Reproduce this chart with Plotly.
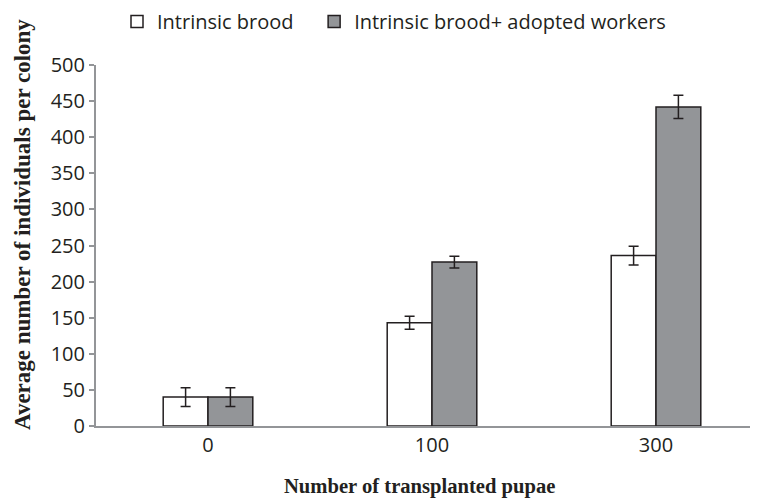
import plotly.graph_objects as go

categories = ["0", "100", "300"]
intrinsic = [40, 143, 236]
intrinsic_err = [13, 9, 13]
adopted = [40, 227, 442]
adopted_err = [13, 8, 16]
y_ticks = [0, 50, 100, 150, 200, 250, 300, 350, 400, 450, 500]
series_names = ["Intrinsic brood", "Intrinsic brood+ adopted workers"]

# page body has an 8px margin; the figure is laid out in its own pixel frame
OFF = 8
W, H = 758 - OFF, 500 - OFF
L, R, T, B = 96 - OFF, 0, 65 - OFF, 500 - 426
plot_w = W - L - R
plot_h = H - T - B
span = plot_w / 224.0

fig = go.Figure()
fig.add_trace(go.Bar(
    x=categories, y=intrinsic, name=series_names[0] + "\u00a0\u00a0\u00a0",
    marker=dict(color="white", line=dict(color="#231f20", width=1.5)),
    error_y=dict(type="data", array=intrinsic_err, color="#231f20", thickness=1.5, width=5),
))
fig.add_trace(go.Bar(
    x=categories, y=adopted, name=series_names[1],
    marker=dict(color="#939598", line=dict(color="#231f20", width=1.5)),
    error_y=dict(type="data", array=adopted_err, color="#231f20", thickness=1.5, width=5),
))

serif = "Liberation Serif, Times New Roman, serif"
fig.update_layout(
    width=W, height=H,
    margin=dict(l=L, r=R, t=T, b=B, autoexpand=False),
    paper_bgcolor="white", plot_bgcolor="white",
    barmode="group", bargap=0.6, bargroupgap=0,
    font=dict(family="Open Sans, sans-serif", size=20, color="#231f20"),
    showlegend=True,
    legend=dict(orientation="h", x=((117 - OFF) - L) / plot_w, y=1 + (T + 6) / plot_h, yanchor="top",
                xanchor="left",
                font=dict(size=20, family="Open Sans, sans-serif", color="#231f20"),
                itemwidth=30, traceorder="normal", bgcolor="rgba(0,0,0,0)"),
    xaxis=dict(type="category", range=[-0.5, -0.5 + span], showline=True, linecolor="#939598",
               linewidth=2, ticks="", showgrid=False, zeroline=False,
               tickfont=dict(size=20, color="#231f20")),
    yaxis=dict(range=[0, 500], tickvals=y_ticks, showline=True, linecolor="#939598", linewidth=2,
               ticks="outside", ticklen=5, tickcolor="#939598", tickwidth=1.5, showgrid=False,
               zeroline=False, tickfont=dict(size=20, color="#231f20")),
    annotations=[
        dict(text="<b>Average number of individuals per colony</b>", xref="paper", yref="paper",
             x=-(L - (22 - OFF)) / plot_w, y=1 - ((225 - OFF) - T) / plot_h, textangle=-90,
             showarrow=False, font=dict(family=serif, size=23, color="#231f20"),
             xanchor="center", yanchor="middle"),
        dict(text="<b>Number of transplanted pupae</b>", xref="paper", yref="paper",
             x=((419 - OFF) - L) / plot_w, y=-((486 - OFF) - (H - B)) / plot_h, showarrow=False,
             font=dict(family=serif, size=20.6, color="#231f20"),
             xanchor="center", yanchor="middle"),
    ],
)
fig.write_html("out.html")
